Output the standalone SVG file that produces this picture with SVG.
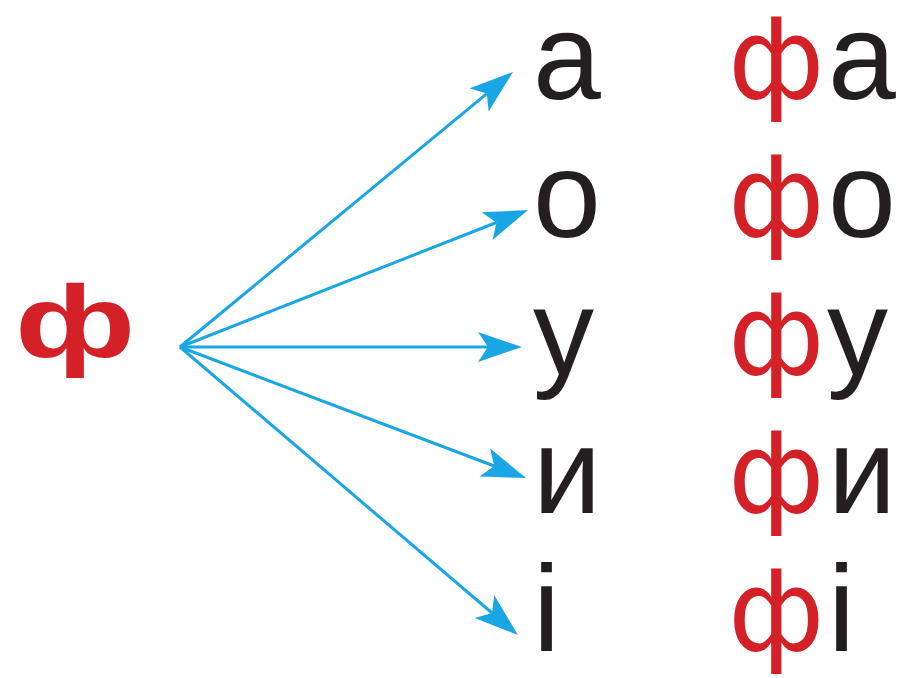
<svg xmlns="http://www.w3.org/2000/svg" width="911" height="678" viewBox="0 0 911 678">
<style>
.t{font-family:"Liberation Sans",Arial,sans-serif;font-size:122px;fill:#231f20}
.r{fill:#d42027;font-family:"DejaVu Sans",sans-serif;font-size:113px}
.big{font-family:"Liberation Sans",Arial,sans-serif;font-size:110px;font-weight:bold;fill:#d42027}
.c{stroke:#1aa6e4;stroke-width:3;fill:none;marker-end:url(#ah)}
</style>
<defs>
<marker id="ah" markerUnits="userSpaceOnUse" markerWidth="50" markerHeight="34" refX="10" refY="15" orient="auto">
<path d="M0,0 L44,15 L0,30 L10,15 Z" fill="#1aa6e4"/>
</marker>
</defs>
<g id="source"><text class="big" transform="translate(15,357) scale(1.25,0.93)" x="0" y="0">ф</text></g>
<g id="connectors">
<line class="c" x1="180" y1="347" x2="486.8" y2="93.6"/>
<line class="c" x1="180" y1="347" x2="496.4" y2="222.5"/>
<line class="c" x1="180" y1="347" x2="488" y2="347"/>
<line class="c" x1="180" y1="347" x2="494.2" y2="466"/>
<line class="c" x1="180" y1="347" x2="492.1" y2="613"/>
</g>
<g id="v1"><text class="t" x="533" y="99">а</text></g>
<g id="v2"><text class="t" x="533" y="237">о</text></g>
<g id="v3"><text class="t" x="533" y="375">у</text></g>
<g id="v4"><text class="t" x="533" y="513">и</text></g>
<g id="v5"><text class="t" x="533" y="651">і</text></g>
<g id="s1"><text class="t" x="728" y="99"><tspan class="r">ф</tspan><tspan x="828">а</tspan></text></g>
<g id="s2"><text class="t" x="728" y="237"><tspan class="r">ф</tspan><tspan x="828">о</tspan></text></g>
<g id="s3"><text class="t" x="728" y="375"><tspan class="r">ф</tspan><tspan x="827">у</tspan></text></g>
<g id="s4"><text class="t" x="728" y="513"><tspan class="r">ф</tspan><tspan x="828">и</tspan></text></g>
<g id="s5"><text class="t" x="728" y="651"><tspan class="r">ф</tspan><tspan x="828">і</tspan></text></g>
</svg>
